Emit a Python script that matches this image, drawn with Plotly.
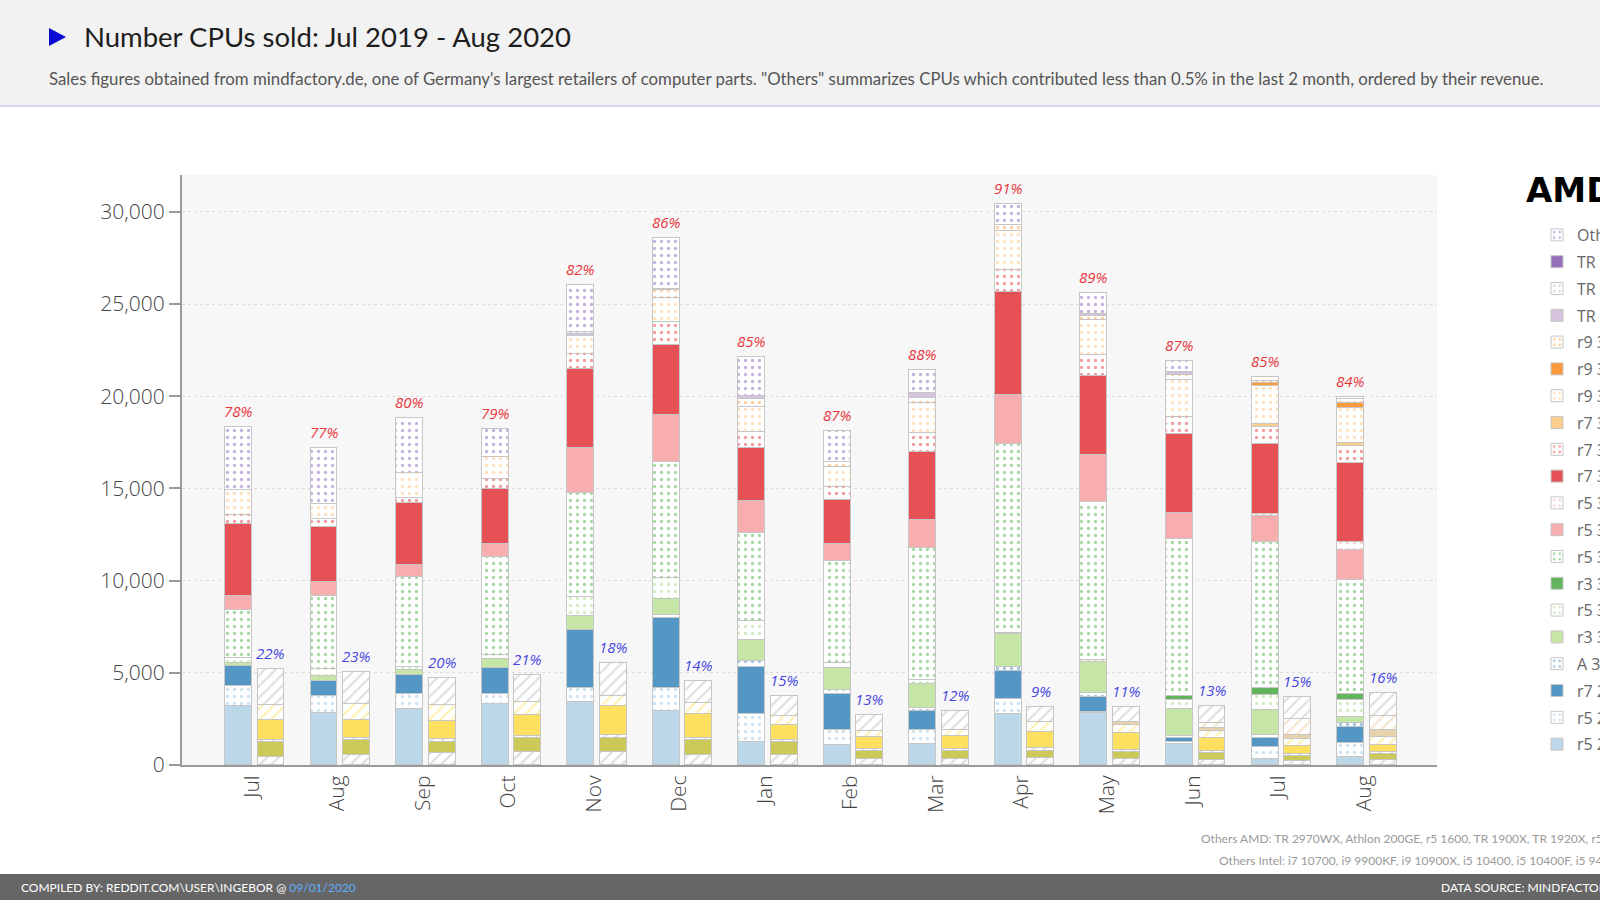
import plotly.graph_objects as go

# ---------------- data ----------------
months = ["Jul", "Aug", "Sep", "Oct", "Nov", "Dec", "Jan", "Feb", "Mar", "Apr", "May", "Jun", "Jul", "Aug"]

# AMD series, stacked bottom -> top
amd_names = ["r5 2600", "r5 2600X", "r7 2700X", "A 3000G", "r3 3200G", "r5 3400G", "r3 3300X",
             "r5 3600", "r5 3600X", "r5 3600XT", "r7 3700X", "r7 3800X", "r7 3800XT",
             "r9 3900X", "r9 3900XT", "r9 3950X", "TR 3960X", "TR 3970X", "TR 3990X", "Others"]
r5_2600   = [3200, 2800, 3050, 3320, 3407, 2924, 1264, 1110, 1162, 2758, 2797, 1150, 350, 450]
r5_2600x  = [1100, 950, 780, 555, 793, 1276, 1498, 775, 720, 813, 90, 100, 600, 740]
r7_2700x  = [1050, 810, 1050, 1385, 3133, 3752, 2563, 1990, 1051, 1524, 814, 200, 500, 850]
a_3000g   = [0, 0, 0, 0, 0, 194, 307, 220, 166, 204, 181, 100, 200, 230]
r3_3200g  = [180, 270, 250, 470, 774, 832, 1138, 1160, 1300, 1789, 1690, 1500, 1350, 360]
r5_3400g  = [250, 360, 200, 250, 1006, 1160, 1028, 277, 200, 80, 150, 450, 780, 870]
r3_3300x  = [0, 0, 0, 0, 0, 0, 0, 0, 0, 0, 0, 250, 400, 340]
r5_3600   = [2630, 3993, 4850, 5315, 5628, 6285, 4802, 5535, 7196, 10267, 8547, 8500, 7900, 6200]
r5_3600x  = [760, 738, 650, 665, 2456, 2572, 1714, 940, 1494, 2643, 2530, 1400, 1400, 1620]
r5_3600xt = [0, 0, 0, 0, 0, 0, 0, 0, 0, 0, 0, 0, 130, 450]
r7_3700x  = [3900, 2968, 3400, 2990, 4255, 3811, 2886, 2380, 3708, 5570, 4282, 4300, 3800, 4280]
r7_3800x  = [500, 432, 250, 555, 831, 1199, 850, 665, 997, 1179, 1139, 950, 940, 920]
r7_3800xt = [0, 0, 0, 0, 0, 0, 0, 0, 0, 0, 0, 0, 145, 130]
r9_3900x  = [1350, 827, 1380, 1215, 967, 1315, 1390, 1107, 1660, 2135, 1897, 2000, 2080, 1950]
r9_3900xt = [0, 0, 0, 0, 0, 0, 0, 0, 0, 0, 0, 0, 170, 250]
r9_3950x  = [0, 0, 0, 0, 0, 445, 416, 277, 277, 305, 217, 250, 100, 200]
tr_3960x  = [0, 0, 0, 0, 135, 77, 180, 0, 221, 0, 144, 150, 0, 0]
tr_3970x  = [0, 0, 0, 0, 97, 0, 0, 0, 0, 0, 0, 0, 0, 0]
tr_3990x  = [0, 0, 0, 0, 0, 0, 0, 0, 0, 0, 0, 0, 0, 0]
amd_others = [3400, 3040, 2950, 1495, 2573, 2766, 2112, 1660, 1273, 1159, 1139, 600, 180, 130]

# Intel series, stacked bottom -> top
intel_names = ["i3 9100F", "i5 9400F", "i5 9600K", "i7 9700K", "i9 9900K", "i5 10600K", "i7 10700K", "Others Intel"]
i3_9100f   = [450, 550, 650, 700, 719, 564, 550, 350, 330, 380, 300, 250, 200, 250]
i5_9400f   = [800, 780, 620, 750, 756, 813, 700, 420, 420, 400, 420, 400, 300, 330]
i5_9600k   = [130, 130, 150, 150, 153, 96, 120, 110, 110, 130, 100, 100, 100, 110]
i7_9700k   = [1050, 1000, 950, 1100, 1586, 1315, 820, 660, 700, 870, 900, 700, 420, 400]
i9_9900k   = [850, 850, 880, 700, 542, 580, 450, 330, 330, 550, 450, 400, 400, 450]
i5_10600k  = [0, 0, 0, 0, 0, 0, 0, 0, 0, 0, 180, 150, 230, 360]
i7_10700k  = [0, 0, 0, 0, 0, 0, 0, 0, 0, 0, 0, 300, 870, 780]
intel_others = [1950, 1750, 1450, 1500, 1798, 1200, 1100, 830, 1050, 800, 810, 900, 1170, 1210]

amd_pct = [78, 77, 80, 79, 82, 86, 85, 87, 88, 91, 89, 87, 85, 84]
intel_pct = [22, 23, 20, 21, 18, 14, 15, 13, 12, 9, 11, 13, 15, 16]

amd_values = [r5_2600, r5_2600x, r7_2700x, a_3000g, r3_3200g, r5_3400g, r3_3300x, r5_3600, r5_3600x,
              r5_3600xt, r7_3700x, r7_3800x, r7_3800xt, r9_3900x, r9_3900xt, r9_3950x,
              tr_3960x, tr_3970x, tr_3990x, amd_others]
amd_colors = ["#bcd8e8", "#9ec8e6", "#5597c4", "#3c8ac6", "#c6e6a5", "#a8d98a", "#62b55c",
              "#4caf48", "#f8aeae", "#f5a0a0", "#e65155", "#e8363d", "#fdcf8e",
              "#fdc27a", "#fd9a3c", "#fd9a3c", "#d5c3df", "#c0a8d6", "#9370b8", "#8a64bd"]
amd_patterns = ["", ".", "", ".", "", ".", "", ".", "", ".", "", ".", "", ".", "", ".", "", ".", "", "."]

intel_values = [i3_9100f, i5_9400f, i5_9600k, i7_9700k, i9_9900k, i5_10600k, i7_10700k, intel_others]
intel_colors = ["#bdbdbd", "#cbc957", "#bdbdbd", "#fde060", "#fde36a", "#e8d2ad", "#f0cca2", "#c2c2c2"]
intel_patterns = ["/", "", "/", "", "/", "", "/", "/"]

# ---------------- layout geometry (pixels) ----------------
W, H = 1800, 900
L, RPX, T, BPX = 182, 1437, 175, 765
PW, PH = RPX - L, BPX - T


def px2x(px):
    return (px - L) / PW


def py2y(py):
    return (BPX - py) / PH


AMD_OFF, INTEL_OFF, BW, TICK_OFF = -0.19, 0.19, 0.315, -0.035
LINE = dict(color="#c6c6c6", width=1)


def marker(color, pat):
    m = dict(color=color, line=LINE)
    if pat:
        m["pattern"] = dict(shape=pat, fgcolor=color, bgcolor="white",
                            size=7 if pat == "." else 8, solidity=0.17 if pat == "." else 0.28)
    return m


fig = go.Figure()
xs = list(range(len(months)))
n_amd = len(amd_names)
for k, (name, vals, col, pat) in enumerate(zip(amd_names, amd_values, amd_colors, amd_patterns)):
    fig.add_trace(go.Bar(
        x=[i + AMD_OFF for i in xs], y=[v if v else None for v in vals], width=BW,
        name=name, legendgroup=name, legendrank=100 + n_amd - k, marker=marker(col, pat)))
for name, vals, col, pat in zip(intel_names, intel_values, intel_colors, intel_patterns):
    fig.add_trace(go.Bar(
        x=[i + INTEL_OFF for i in xs], y=[v if v else None for v in vals], width=BW,
        name=name, legendgroup=name, showlegend=False, marker=marker(col, pat)))

amd_tot = [sum(s[i] for s in amd_values) for i in xs]
intel_tot = [sum(s[i] for s in intel_values) for i in xs]

ann = []
for i in xs:
    ann.append(dict(x=i + AMD_OFF, y=amd_tot[i], xref="x", yref="y", text=f"{amd_pct[i]}%",
                    showarrow=False, yanchor="bottom", yshift=4,
                    font=dict(family="Open Sans", size=15, color="#e8363d", style="italic")))
    ann.append(dict(x=i + INTEL_OFF, y=intel_tot[i], xref="x", yref="y", text=f"{intel_pct[i]}%",
                    showarrow=False, yanchor="bottom", yshift=4,
                    font=dict(family="Open Sans", size=15, color="#4747e0", style="italic")))

NARROW = "Lato, Roboto, sans-serif"

ann += [
    dict(x=px2x(82), y=py2y(37), xref="paper", yref="paper", xanchor="left", yanchor="middle",
         text="Number CPUs sold: Jul 2019 - Aug 2020", showarrow=False,
         font=dict(family=NARROW, size=27.5, color="#1e1e1e")),
    dict(x=px2x(47), y=py2y(79), xref="paper", yref="paper", xanchor="left", yanchor="middle",
         text="Sales figures obtained from mindfactory.de, one of Germany's largest retailers of computer parts. "
              "\"Others\" summarizes CPUs which contributed less than 0.5% in the last 2 month, ordered by their revenue.",
         showarrow=False, font=dict(family=NARROW, size=16.8, color="#555555")),
    dict(x=px2x(1524), y=py2y(190), xref="paper", yref="paper", xanchor="left", yanchor="middle",
         text="<b>AMD</b>", showarrow=False,
         font=dict(family="DejaVu Sans", size=34, color="#000000")),
    dict(x=px2x(1199), y=py2y(838), xref="paper", yref="paper", xanchor="left", yanchor="middle",
         text="Others AMD: TR 2970WX, Athlon 200GE, r5 1600, TR 1900X, TR 1920X, r5 1600X, r7 2700, r5 2400G",
         showarrow=False, font=dict(family=NARROW, size=12, color="#9a9a9a")),
    dict(x=px2x(1217), y=py2y(860), xref="paper", yref="paper", xanchor="left", yanchor="middle",
         text="Others Intel: i7 10700, i9 9900KF, i9 10900X, i5 10400, i5 10400F, i5 9400, i7 9700KF",
         showarrow=False, font=dict(family=NARROW, size=12, color="#9a9a9a")),
    dict(x=px2x(19), y=py2y(887), xref="paper", yref="paper", xanchor="left", yanchor="middle",
         text="COMPILED BY: REDDIT.COM\\USER\\INGEBOR @ <span style='color:#5fb0ff'>09/01/2020</span>",
         showarrow=False, font=dict(family=NARROW, size=12, color="#ffffff")),
    dict(x=px2x(1439), y=py2y(887), xref="paper", yref="paper", xanchor="left", yanchor="middle",
         text="DATA SOURCE: MINDFACTORY.DE", showarrow=False,
         font=dict(family=NARROW, size=12, color="#ffffff")),
]

shapes = [
    dict(type="rect", xref="paper", yref="paper", x0=px2x(0), x1=px2x(W), y0=py2y(0), y1=py2y(106),
         fillcolor="#f2f2f2", line=dict(width=0), layer="below"),
    dict(type="line", xref="paper", yref="paper", x0=px2x(0), x1=px2x(W), y0=py2y(106), y1=py2y(106),
         line=dict(color="#c6c6ee", width=1.5)),
    dict(type="path", xref="paper", yref="paper",
         path=f"M{px2x(49)},{py2y(28)} L{px2x(49)},{py2y(46)} L{px2x(66)},{py2y(37)} Z",
         fillcolor="#0a0ad2", line=dict(width=0)),
    dict(type="rect", xref="paper", yref="paper", x0=px2x(0), x1=px2x(W), y0=py2y(874), y1=py2y(900),
         fillcolor="#666666", line=dict(width=0)),
]

fig.update_layout(
    width=W, height=H, autosize=False,
    margin=dict(l=L, r=W - RPX, t=T, b=H - BPX, pad=0),
    paper_bgcolor="white", plot_bgcolor="#f7f7f7",
    barmode="stack", bargap=0,
    font=dict(family="Open Sans", color="#444444"),
    annotations=ann, shapes=shapes,
    showlegend=True,
    legend=dict(xref="container", yref="container", x=1537 / W, y=1 - 218 / H,
                xanchor="left", yanchor="top", traceorder="grouped", tracegroupgap=3,
                bgcolor="rgba(0,0,0,0)", itemwidth=30, maxheight=700,
                font=dict(family="Open Sans", size=16, color="#666666")),
    xaxis=dict(range=[-0.85, 13.82], tickmode="array", tickvals=[i + TICK_OFF for i in xs],
               ticktext=months, tickangle=-90,
               showgrid=False, zeroline=False, showline=True, linecolor="#9a9a9a", linewidth=2,
               ticks="", tickfont=dict(size=21, color="#444444", family="Open Sans", weight=300),
               fixedrange=True),
    yaxis=dict(range=[0, 32000], dtick=5000, tickformat=",", showgrid=True, gridcolor="#dddddd",
               griddash="dot", gridwidth=1, zeroline=False, showline=True, linecolor="#9a9a9a",
               linewidth=2, ticks="outside", ticklen=11, tickcolor="#9a9a9a", tickwidth=1.5,
               tickfont=dict(size=21, color="#444444", family="Open Sans", weight=300),
               fixedrange=True),
)

fig.write_html("out.html", post_script="document.documentElement.style.overflow='hidden';"
                                       "document.body.style.overflow='hidden';"
                                       "document.body.style.margin='0';")
